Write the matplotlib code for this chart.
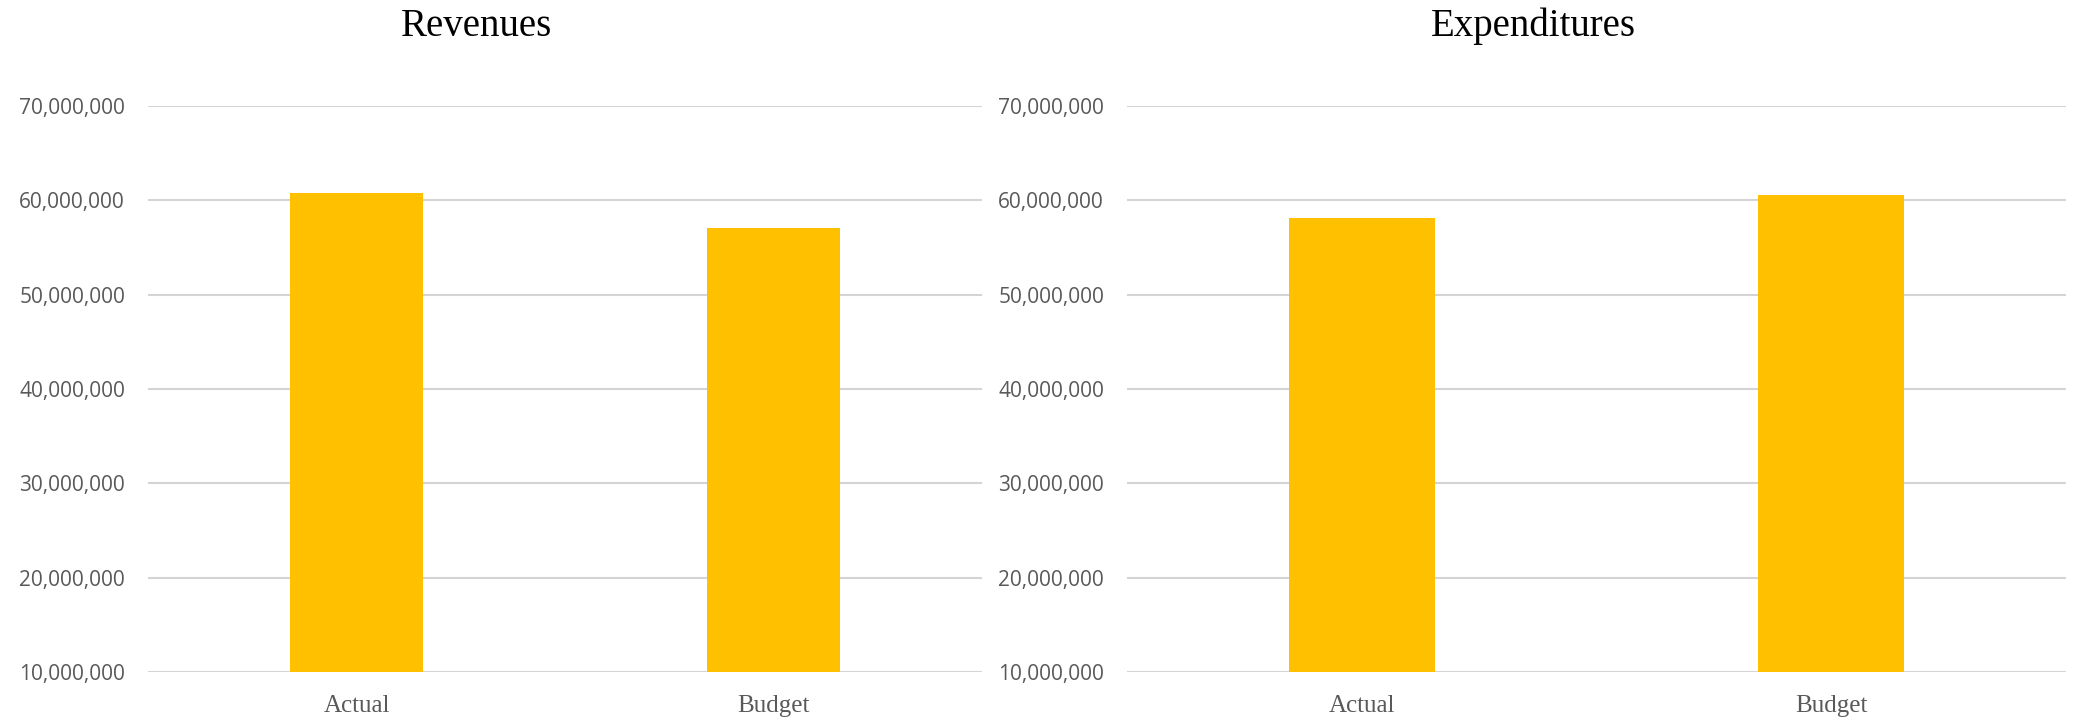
import matplotlib
matplotlib.use("Agg")
import matplotlib.pyplot as plt
from matplotlib.ticker import FuncFormatter

categories = ["Actual", "Budget"]
revenues = [60_830_000, 57_080_000]
expenditures = [58_160_000, 60_590_000]
titles = ["Revenues", "Expenditures"]
yticks = [10_000_000, 20_000_000, 30_000_000, 40_000_000, 50_000_000, 60_000_000, 70_000_000]

W, H = 2080, 718
fig = plt.figure(figsize=(W / 100, H / 100), dpi=100)

def px_axes(x0, x1, ytop, ybot):
    return fig.add_axes([x0 / W, (H - ybot) / H, (x1 - x0) / W, (ybot - ytop) / H])

axes_px = [(148, 982, 106, 672), (1127, 2066, 106, 672)]
bar_widths = [0.32, 0.31]
title_x = [477, 1533]
series = [revenues, expenditures]

fmt = FuncFormatter(lambda v, p: f"{int(v):,}")

for i, (ax_px, vals) in enumerate(zip(axes_px, series)):
    ax = px_axes(*ax_px)
    ax.set_axisbelow(True)
    ax.bar(range(len(categories)), vals, width=bar_widths[i], color="#FFC000", zorder=3)
    ax.set_xlim(-0.5, len(categories) - 0.5)
    ax.set_ylim(yticks[0], yticks[-1])
    ax.set_yticks(yticks)
    ax.yaxis.set_major_formatter(fmt)
    ax.set_xticks(range(len(categories)))
    ax.set_xticklabels(categories, fontfamily="Liberation Serif", fontsize=18, color="#595959")
    for lbl in ax.get_yticklabels():
        lbl.set_fontfamily("Open Sans")
        lbl.set_fontsize(15)
        lbl.set_color("#595959")
    ax.tick_params(axis="y", length=0, pad=16.5)
    ax.tick_params(axis="x", length=0, pad=16.5)
    ax.grid(axis="y", color="#d4d4d4", linewidth=1.5, zorder=0)
    for s in ax.spines.values():
        s.set_visible(False)
    fig.text(title_x[i] / W, (H - 36) / H, titles[i], ha="center", va="baseline",
             fontfamily="Liberation Serif", fontsize=28, color="#000000")

fig.savefig("out.png", dpi=100, facecolor="white")
